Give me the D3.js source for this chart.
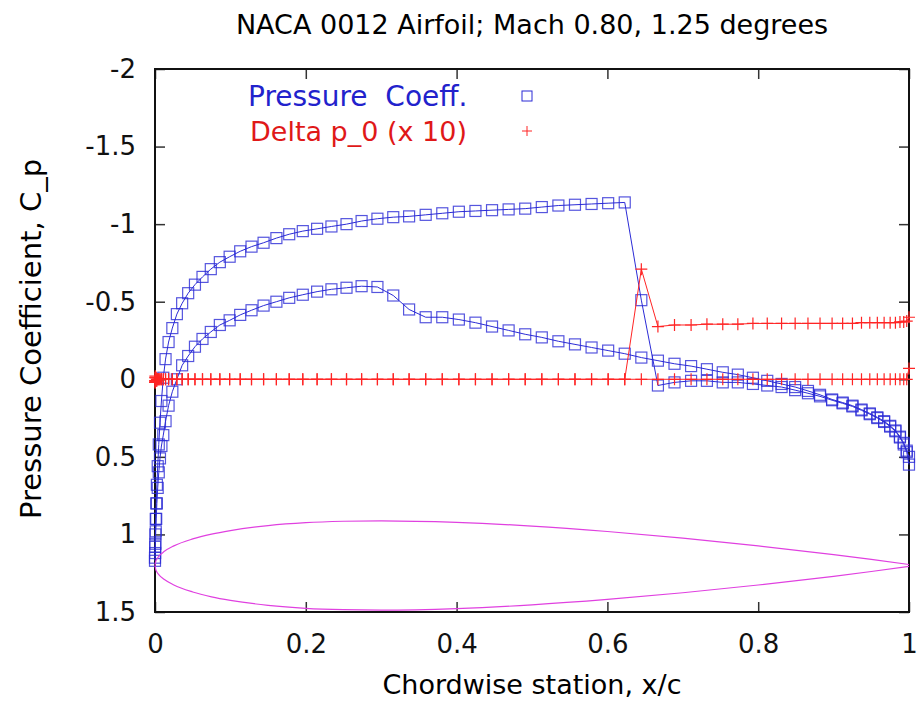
<!DOCTYPE html>
<html>
<head>
<meta charset="utf-8">
<script src="https://cdn.jsdelivr.net/npm/d3@7"></script>
<style>
  body { margin: 0; background: #fff; }
  text { font-family: "DejaVu Sans", "Liberation Sans", sans-serif; }
</style>
</head>
<body>
<script>
// chordwise stations (same for both surfaces)
var stations = [0, 0.0002, 0.0005, 0.001, 0.0016, 0.0025, 0.0036, 0.005, 0.0066, 0.0085,
  0.011, 0.014, 0.018, 0.023, 0.029, 0.036, 0.044, 0.053, 0.063, 0.074,
  0.086, 0.099, 0.113, 0.128, 0.144, 0.161, 0.178, 0.196, 0.215, 0.234,
  0.254, 0.274, 0.295, 0.316, 0.337, 0.359, 0.381, 0.403, 0.425, 0.447,
  0.469, 0.491, 0.513, 0.535, 0.557, 0.579, 0.601, 0.623, 0.645, 0.667,
  0.689, 0.711, 0.732, 0.753, 0.773, 0.793, 0.812, 0.831, 0.849, 0.866,
  0.882, 0.898, 0.912, 0.925, 0.937, 0.948, 0.958, 0.967, 0.975, 0.982,
  0.988, 0.993, 0.997, 1.0];

var cpUpper = [1.15, 1.08, 1.0, 0.9, 0.8, 0.68, 0.56, 0.42, 0.28, 0.14,
  -0.01, -0.13, -0.24, -0.33, -0.42, -0.49, -0.555, -0.61, -0.66, -0.71,
  -0.755, -0.79, -0.825, -0.855, -0.88, -0.91, -0.935, -0.955, -0.97, -0.985,
  -1.0, -1.02, -1.035, -1.045, -1.05, -1.06, -1.07, -1.08, -1.085, -1.09,
  -1.095, -1.10, -1.11, -1.12, -1.125, -1.13, -1.135, -1.14, -0.51, 0.04,
  0.02, 0.01, 0.01, 0.02, 0.02, 0.03, 0.04, 0.05, 0.07, 0.09,
  0.11, 0.135, 0.155, 0.175, 0.20, 0.225, 0.25, 0.275, 0.305, 0.335,
  0.375, 0.42, 0.47, 0.55];

var cpLower = [1.17, 1.12, 1.06, 0.98, 0.90, 0.80, 0.70, 0.60, 0.51, 0.43,
  0.36, 0.27, 0.17, 0.08, 0.0, -0.09, -0.15, -0.21, -0.26, -0.305,
  -0.35, -0.38, -0.415, -0.445, -0.475, -0.50, -0.525, -0.545, -0.565, -0.58,
  -0.59, -0.60, -0.595, -0.54, -0.45, -0.40, -0.40, -0.385, -0.365, -0.34,
  -0.315, -0.29, -0.27, -0.245, -0.225, -0.205, -0.185, -0.165, -0.14, -0.12,
  -0.10, -0.085, -0.065, -0.045, -0.03, -0.01, 0.01, 0.03, 0.05, 0.075,
  0.10, 0.13, 0.15, 0.17, 0.195, 0.22, 0.245, 0.27, 0.30, 0.33,
  0.37, 0.41, 0.46, 0.50];

// total pressure loss x 10
var dpUpper = [0.01, 0.02, 0.01, -0.01, 0.01, 0, 0, 0, 0, 0,
  0, 0, 0, 0, 0, 0, 0, 0, 0, 0,
  0, 0, 0, 0, 0, 0, 0, 0, 0, 0,
  0, 0, 0, 0, 0, 0, 0, 0, 0, 0,
  0, 0, 0, 0, 0, 0, 0, 0, -0.71, -0.34,
  -0.35, -0.35, -0.355, -0.355, -0.355, -0.36, -0.36, -0.36, -0.36, -0.36,
  -0.36, -0.36, -0.36, -0.36, -0.365, -0.365, -0.365, -0.365, -0.365, -0.365,
  -0.37, -0.37, -0.375, -0.40];

var dpLower = [-0.01, 0.02, -0.02, 0.01, -0.01, 0.01, 0, 0, 0, 0,
  0, 0, 0, 0, 0, 0, 0, 0, 0, 0,
  0, 0, 0, 0, 0, 0, 0, 0, 0, 0,
  0, 0, 0, 0, 0, 0, 0, 0, 0, 0,
  0, 0, 0, 0, 0, 0, 0, 0, 0, 0,
  0, 0, 0, 0, 0, 0, 0, 0, 0, 0,
  0, 0, 0, 0, 0, 0, 0, 0, 0, 0,
  0, 0, 0, -0.07];

// airfoil outline, already placed in Cp units
var foilX     = [0, 0.001, 0.0025, 0.005, 0.0125, 0.025, 0.05, 0.075, 0.1, 0.15, 0.2, 0.25, 0.3, 0.4, 0.5, 0.6, 0.7, 0.8, 0.9, 0.95, 1.0];
var foilUpper = [1.2, 1.174, 1.158, 1.141, 1.109, 1.074, 1.029, 0.998, 0.975, 0.943, 0.924, 0.915, 0.912, 0.922, 0.946, 0.981, 1.024, 1.074, 1.130, 1.161, 1.194];
var foilLower = [1.2, 1.226, 1.242, 1.259, 1.291, 1.326, 1.371, 1.402, 1.425, 1.457, 1.476, 1.485, 1.488, 1.478, 1.454, 1.419, 1.376, 1.326, 1.270, 1.239, 1.206];

var xTicks = [0, 0.2, 0.4, 0.6, 0.8, 1];
var yTicks = [-2, -1.5, -1, -0.5, 0, 0.5, 1, 1.5];

var width = 921, height = 704;
var pLeft = 155, pRight = 909, pTop = 69, pBottom = 612;

var blue = "#2b2bd6", red = "#ff2424", magenta = "#e040e0";

var x = d3.scaleLinear().domain([0, 1]).range([pLeft, pRight]);
var y = d3.scaleLinear().domain([-2, 1.5]).range([pTop, pBottom]);

var svg = d3.select("body").append("svg")
    .attr("width", width)
    .attr("height", height);

// axes, ticks mirrored inward
function styleAxis(g) {
  g.select(".domain").remove();
  g.selectAll(".tick line").attr("stroke", "#333").attr("stroke-width", 1.5);
  g.selectAll(".tick text").attr("fill", "#111")
    .style("font-family", "'DejaVu Sans', sans-serif")
    .style("font-size", "26px");
}

svg.append("g")
    .attr("transform", "translate(0," + pBottom + ")")
    .call(d3.axisBottom(x).tickValues(xTicks).tickSizeInner(-10).tickSizeOuter(0)
      .tickPadding(23).tickFormat(function(d){ return String(d); }))
    .call(styleAxis);

svg.append("g")
    .attr("transform", "translate(0," + pTop + ")")
    .call(d3.axisTop(x).tickValues(xTicks).tickSizeInner(-10).tickSizeOuter(0).tickFormat(""))
    .call(styleAxis);

svg.append("g")
    .attr("transform", "translate(" + pLeft + ",0)")
    .call(d3.axisLeft(y).tickValues(yTicks).tickSizeInner(-10).tickSizeOuter(0)
      .tickPadding(19).tickFormat(function(d){ return String(d); }))
    .call(styleAxis);

svg.append("g")
    .attr("transform", "translate(" + pRight + ",0)")
    .call(d3.axisRight(y).tickValues(yTicks).tickSizeInner(-10).tickSizeOuter(0).tickFormat(""))
    .call(styleAxis);

svg.append("rect")
    .attr("x", pLeft).attr("y", pTop)
    .attr("width", pRight - pLeft).attr("height", pBottom - pTop)
    .attr("fill", "none").attr("stroke", "#111").attr("stroke-width", 2);

// titles
svg.append("text")
    .attr("x", 532).attr("y", 34)
    .attr("text-anchor", "middle")
    .style("font-size", "27px")
    .text("NACA 0012 Airfoil; Mach 0.80, 1.25 degrees");

svg.append("text")
    .attr("x", 532).attr("y", 694)
    .attr("text-anchor", "middle")
    .style("font-size", "27px")
    .text("Chordwise station, x/c");

svg.append("text")
    .attr("transform", "translate(41,339) rotate(-90)")
    .attr("text-anchor", "middle")
    .style("font-size", "29px")
    .text("Pressure Coefficient, C_p");

var plot = svg.append("g");

var line = d3.line()
    .x(function(d){ return x(d[0]); })
    .y(function(d){ return y(d[1]); });

function pairs(xs, ys) {
  return xs.map(function(v, i){ return [v, ys[i]]; });
}

// pressure coefficient
[cpUpper, cpLower].forEach(function(vals){
  var pts = pairs(stations, vals);
  plot.append("path")
      .datum(pts)
      .attr("d", line)
      .attr("fill", "none")
      .attr("stroke", blue)
      .attr("stroke-width", 1);
  plot.append("g").selectAll("rect")
    .data(pts).enter()
    .append("rect")
      .attr("x", function(d){ return x(d[0]) - 5.5; })
      .attr("y", function(d){ return y(d[1]) - 5.5; })
      .attr("width", 11).attr("height", 11)
      .attr("fill", "none")
      .attr("stroke", blue)
      .attr("stroke-opacity", 0.8)
      .attr("stroke-width", 1.2);
});

// delta p_0
[dpUpper, dpLower].forEach(function(vals){
  var pts = pairs(stations, vals);
  plot.append("path")
      .datum(pts)
      .attr("d", line)
      .attr("fill", "none")
      .attr("stroke", red)
      .attr("stroke-width", 1);
  plot.append("g").selectAll("path")
    .data(pts).enter()
    .append("path")
      .attr("d", function(d){
        var cx = x(d[0]), cy = y(d[1]);
        return "M" + (cx - 6) + "," + cy + "H" + (cx + 6) + "M" + cx + "," + (cy - 6) + "V" + (cy + 6);
      })
      .attr("stroke", red)
      .attr("stroke-width", 1.2);
});

// airfoil shape
var foilLine = d3.line()
    .x(function(d){ return x(d[0]); })
    .y(function(d){ return y(d[1]); })
    .curve(d3.curveMonotoneX);
[foilUpper, foilLower].forEach(function(vals){
  plot.append("path")
      .datum(pairs(foilX, vals))
      .attr("d", foilLine)
      .attr("fill", "none")
      .attr("stroke", magenta)
      .attr("stroke-width", 1.2);
});

// legend
var legend = svg.append("g");
legend.append("text")
    .attr("x", 248).attr("y", 106)
    .attr("fill", "#2222cc")
    .style("font-size", "28px")
    .style("white-space", "pre")
    .text("Pressure  Coeff.");
legend.append("rect")
    .attr("x", 522).attr("y", 91)
    .attr("width", 10).attr("height", 10)
    .attr("fill", "none").attr("stroke", blue).attr("stroke-width", 1);
legend.append("text")
    .attr("x", 250).attr("y", 141)
    .attr("fill", "#e01818")
    .style("font-size", "27px")
    .text("Delta p_0 (x 10)");
legend.append("path")
    .attr("d", "M522,131H532M527,126V136")
    .attr("stroke", red).attr("stroke-width", 1);
</script>
</body>
</html>
